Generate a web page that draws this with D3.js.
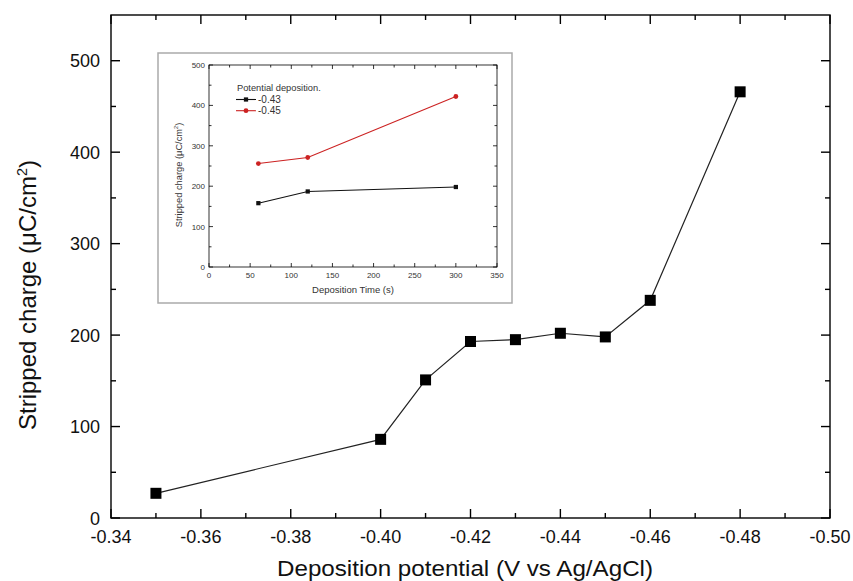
<!DOCTYPE html>
<html>
<head>
<meta charset="utf-8">
<script src="https://cdn.jsdelivr.net/npm/d3@7"></script>
<style>
  body { margin: 0; background: #fff; }
  text { font-family: "Liberation Sans", Arial, sans-serif; }
</style>
</head>
<body>
<svg id="chart" width="853" height="581"></svg>
<script>
// main series
const potentials = [-0.35, -0.40, -0.41, -0.42, -0.43, -0.44, -0.45, -0.46, -0.48];
const charges = [27, 86, 151, 193, 195, 202, 198, 238, 466];
const xTicks = [-0.34, -0.36, -0.38, -0.40, -0.42, -0.44, -0.46, -0.48, -0.50];
const yTicks = [0, 100, 200, 300, 400, 500];

// inset series
const insetTimes = [60, 120, 300];
const insetBlack = [158, 187, 198];
const insetRed = [256, 271, 422];
const insetNames = ["-0.43", "-0.45"];
const insetXTicks = [0, 50, 100, 150, 200, 250, 300, 350];
const insetYTicks = [0, 100, 200, 300, 400, 500];

const svg = d3.select("#chart");

function frame(g, x, y, xMajor, xMinor, yMajor, yMinor, len, minorLen, width) {
    const [x0, x1] = x.range();
    const [y0, y1] = y.range();
    g.append("rect")
        .attr("x", Math.min(x0, x1)).attr("y", y1)
        .attr("width", Math.abs(x1 - x0)).attr("height", y0 - y1)
        .attr("fill", "none").attr("stroke", "#000").attr("stroke-width", width);
    const tick = (vals, l, horizontal) => {
        vals.forEach(v => {
            if (horizontal) {
                const px = x(v);
                g.append("line").attr("x1", px).attr("x2", px).attr("y1", y0).attr("y2", y0 - l)
                    .attr("stroke", "#000").attr("stroke-width", width);
                g.append("line").attr("x1", px).attr("x2", px).attr("y1", y1).attr("y2", y1 + l)
                    .attr("stroke", "#000").attr("stroke-width", width);
            } else {
                const py = y(v);
                g.append("line").attr("x1", x0).attr("x2", x0 + l).attr("y1", py).attr("y2", py)
                    .attr("stroke", "#000").attr("stroke-width", width);
                g.append("line").attr("x1", x1).attr("x2", x1 - l).attr("y1", py).attr("y2", py)
                    .attr("stroke", "#000").attr("stroke-width", width);
            }
        });
    };
    tick(xMajor, len, true);
    tick(xMinor, minorLen, true);
    tick(yMajor, len, false);
    tick(yMinor, minorLen, false);
}

// ---- main plot ----
const x = d3.scaleLinear().domain([-0.34, -0.50]).range([111, 830]);
const y = d3.scaleLinear().domain([0, 550]).range([518, 15]);

const main = svg.append("g");
const xMinor = d3.range(-0.35, -0.50, -0.02);
const yMinor = [50, 150, 250, 350, 450];
frame(main, x, y, xTicks, xMinor, yTicks, yMinor, 9, 5, 1.4);

main.selectAll(".xl").data(xTicks).join("text")
    .attr("x", d => x(d)).attr("y", 543)
    .attr("text-anchor", "middle").attr("font-size", 18).attr("fill", "#111")
    .text(d => d.toFixed(2));
main.selectAll(".yl").data(yTicks).join("text")
    .attr("x", 100).attr("y", d => y(d) + 6.5)
    .attr("text-anchor", "end").attr("font-size", 18).attr("fill", "#111")
    .text(d => d);

main.append("text")
    .attr("x", 277).attr("y", 576)
    .attr("font-size", 21.5).attr("fill", "#111")
    .attr("textLength", 376).attr("lengthAdjust", "spacingAndGlyphs")
    .text("Deposition potential (V vs Ag/AgCl)");

const yt = main.append("text")
    .attr("transform", "translate(36,295) rotate(-90)")
    .attr("text-anchor", "middle").attr("font-size", 24).attr("fill", "#111");
yt.append("tspan").text("Stripped charge (\u03bcC/cm");
yt.append("tspan").attr("font-size", 14.5).attr("dy", -9.5).text("2");
yt.append("tspan").attr("dy", 9.5).text(")");

const line = d3.line().x((d, i) => x(potentials[i])).y(d => y(d));
main.append("path").datum(charges)
    .attr("d", line).attr("fill", "none").attr("stroke", "#222").attr("stroke-width", 1.2);
main.selectAll(".pt").data(charges).join("rect")
    .attr("x", (d, i) => x(potentials[i]) - 5.5).attr("y", d => y(d) - 5.5)
    .attr("width", 11).attr("height", 11).attr("fill", "#000");

// ---- inset ----
const inset = svg.append("g");
inset.append("rect")
    .attr("x", 158).attr("y", 53).attr("width", 354).attr("height", 250)
    .attr("fill", "#fff").attr("stroke", "#aaa").attr("stroke-width", 1.5);

const ix = d3.scaleLinear().domain([0, 350]).range([209, 497]);
const iy = d3.scaleLinear().domain([0, 500]).range([267, 65]);
frame(inset, ix, iy, insetXTicks, d3.range(25, 350, 50), insetYTicks, [50, 150, 250, 350, 450], 4, 2.5, 0.8);

inset.selectAll(".ixl").data(insetXTicks).join("text")
    .attr("x", d => ix(d)).attr("y", 278)
    .attr("text-anchor", "middle").attr("font-size", 8).attr("fill", "#333")
    .text(d => d);
inset.selectAll(".iyl").data(insetYTicks).join("text")
    .attr("x", 205).attr("y", d => iy(d) + 3)
    .attr("text-anchor", "end").attr("font-size", 8).attr("fill", "#333")
    .text(d => d);
inset.append("text")
    .attr("x", 353).attr("y", 293)
    .attr("text-anchor", "middle").attr("font-size", 9.5).attr("fill", "#333")
    .text("Deposition Time (s)");
const iyt = inset.append("text")
    .attr("transform", "translate(182,175) rotate(-90)")
    .attr("text-anchor", "middle").attr("font-size", 9.3).attr("fill", "#333");
iyt.append("tspan").text("Stripped charge (\u03bcC/cm");
iyt.append("tspan").attr("font-size", 5.5).attr("dy", -4).text("2");
iyt.append("tspan").attr("dy", 4).text(")");

const iseries = [
    { name: insetNames[0], values: insetBlack, color: "#111", shape: "square" },
    { name: insetNames[1], values: insetRed, color: "#cc2222", shape: "circle" }
];
const iline = d3.line().x((d, i) => ix(insetTimes[i])).y(d => iy(d));
iseries.forEach((s, k) => {
    inset.append("path").datum(s.values)
        .attr("d", iline).attr("fill", "none").attr("stroke", s.color).attr("stroke-width", 1.1);
    const sym = d3.symbol().type(s.shape === "square" ? d3.symbolSquare : d3.symbolCircle).size(18);
    inset.selectAll(".m" + k).data(s.values).join("path")
        .attr("d", sym)
        .attr("transform", (d, i) => `translate(${ix(insetTimes[i])},${iy(d)})`)
        .attr("fill", s.color);
    // legend entry
    const ly = 99.5 + k * 11.2;
    inset.append("line").attr("x1", 236).attr("x2", 256).attr("y1", ly).attr("y2", ly)
        .attr("stroke", s.color).attr("stroke-width", 1.1);
    inset.append("path").attr("d", sym).attr("transform", `translate(246,${ly})`).attr("fill", s.color);
    inset.append("text").attr("x", 258).attr("y", ly + 3.6)
        .attr("font-size", 10).attr("fill", "#333").text(s.name);
});
inset.append("text").attr("x", 237).attr("y", 91)
    .attr("font-size", 9.3).attr("fill", "#333").text("Potential deposition.");
</script>
</body>
</html>
